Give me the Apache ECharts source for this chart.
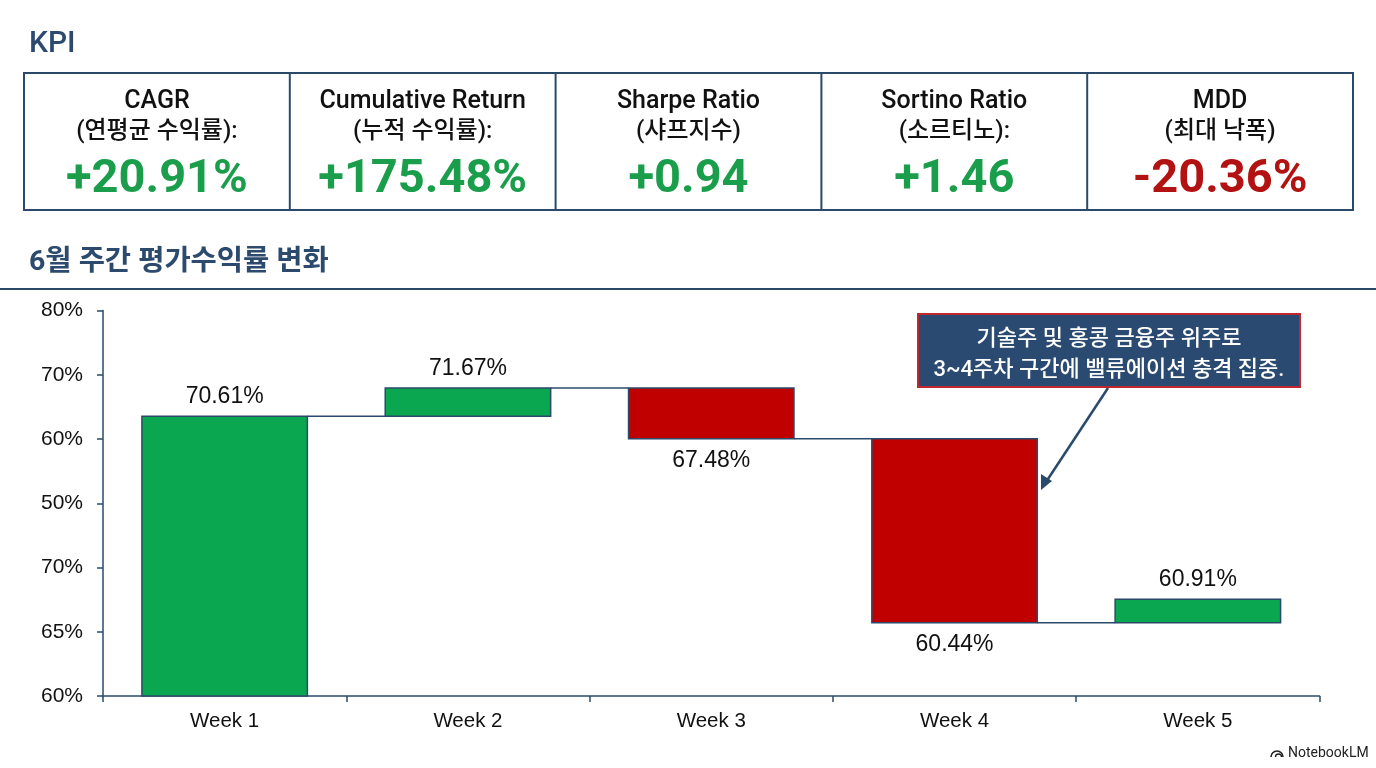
<!DOCTYPE html>
<html>
<head>
<meta charset="utf-8">
<script src="https://cdn.jsdelivr.net/npm/echarts@6/dist/echarts.min.js"></script>
<style>
html,body{margin:0;padding:0;background:#fff;}
#c{width:1376px;height:768px;}
</style>
</head>
<body>
<div id="c"></div>
<script>
// ---- data ----
const kpiNames = ['CAGR', 'Cumulative Return', 'Sharpe Ratio', 'Sortino Ratio', 'MDD'];
const kpiSubs = ['(연평균 수익률):', '(누적 수익률):', '(샤프지수)', '(소르티노):', '(최대 낙폭)'];
const kpiValues = ['+20.91%', '+175.48%', '+0.94', '+1.46', '-20.36%'];
const kpiPositive = [true, true, true, true, false];

const categories = ['Week 1', 'Week 2', 'Week 3', 'Week 4', 'Week 5'];
// bar levels in axis-tick units (position along the printed axis)
const barLevels = [0, 4.355, 4.795, 4.005, 1.14, 1.504];
const valueLabels = ['70.61%', '71.67%', '67.48%', '60.44%', '60.91%'];
const yTickLabels = ['60%', '65%', '70%', '50%', '60%', '70%', '80%'];

const noteLines = ['기술주 및 홍콩 금융주 위주로', '3~4주차 구간에 밸류에이션 충격 집중.'];

// ---- styles ----
const NAVY = '#2b4a6b';
const GREEN = '#0aa650';
const RED = '#c00000';
const KFONT = "Roboto, 'Noto Sans CJK KR', sans-serif";
const CFONT = "'Liberation Sans', Arial, 'Noto Sans CJK KR', sans-serif";

const chart = echarts.init(document.getElementById('c'), null, {renderer: 'canvas'});

const graphics = [];
graphics.push({type: 'text', x: 29, y: 44, style: {text: 'KPI', fill: '#2c4a6e', font: "500 30px " + KFONT, textVerticalAlign: 'middle'}});
// KPI box
const boxX = 24, boxY = 73, boxW = 1329, boxH = 137, cellW = boxW / 5;
graphics.push({type: 'rect', shape: {x: boxX, y: boxY, width: boxW, height: boxH}, style: {fill: '#fff', stroke: NAVY, lineWidth: 2}});
for (let i = 1; i < 5; i++) {
  graphics.push({type: 'line', shape: {x1: boxX + cellW * i, y1: boxY, x2: boxX + cellW * i, y2: boxY + boxH}, style: {stroke: NAVY, lineWidth: 2}});
}
kpiNames.forEach((n, i) => {
  const cx = boxX + cellW * (i + 0.5);
  graphics.push({type: 'text', x: cx, y: 102, style: {text: n, fill: '#111', font: "500 25px " + KFONT, textAlign: 'center', textVerticalAlign: 'middle'}});
  graphics.push({type: 'text', x: cx, y: 132, style: {text: kpiSubs[i], fill: '#111', font: "500 24px " + KFONT, textAlign: 'center', textVerticalAlign: 'middle'}});
  graphics.push({type: 'text', x: cx, y: 180, style: {text: kpiValues[i], fill: kpiPositive[i] ? '#1b9e4b' : '#b31212', font: "bold 47px " + KFONT, textAlign: 'center', textVerticalAlign: 'middle'}});
});
// section title
graphics.push({type: 'text', x: 29, y: 263, style: {text: '6월 주간 평가수익률 변화', fill: '#2c4a6e', font: "bold 28.5px " + KFONT, textVerticalAlign: 'middle'}});
graphics.push({type: 'line', shape: {x1: 0, y1: 289, x2: 1376, y2: 289}, style: {stroke: NAVY, lineWidth: 2}});
// annotation
graphics.push({type: 'rect', z: 10, shape: {x: 918, y: 314, width: 382, height: 73}, style: {fill: '#2b4a72', stroke: '#c0282d', lineWidth: 2}});
graphics.push({type: 'text', z: 11, x: 1109, y: 339, style: {text: noteLines[0], fill: '#fff', font: "500 22px " + KFONT, textAlign: 'center', textVerticalAlign: 'middle'}});
graphics.push({type: 'text', z: 11, x: 1109, y: 370, style: {text: noteLines[1], fill: '#fff', font: "500 22px " + KFONT, textAlign: 'center', textVerticalAlign: 'middle'}});
// arrow
graphics.push({type: 'line', z: 10, shape: {x1: 1108, y1: 388, x2: 1046, y2: 482}, style: {stroke: NAVY, lineWidth: 2.5}});
graphics.push({type: 'polygon', z: 10, shape: {points: [[1041, 490], [1041, 474], [1052, 481]]}, style: {fill: NAVY}});
// watermark
graphics.push({type: 'text', x: 1288, y: 753, style: {text: 'NotebookLM', fill: '#222', font: "14px " + KFONT, textVerticalAlign: 'middle'}});
graphics.push({type: 'arc', shape: {cx: 1277, cy: 757, r: 6, startAngle: Math.PI, endAngle: 2 * Math.PI}, style: {fill: 'none', stroke: '#222', lineWidth: 1.6}});
graphics.push({type: 'arc', shape: {cx: 1278.5, cy: 757, r: 3, startAngle: Math.PI, endAngle: 2 * Math.PI}, style: {fill: 'none', stroke: '#222', lineWidth: 1.4}});

const seriesData = categories.map((c, i) => [i, barLevels[i], barLevels[i + 1]]);

const option = {
  backgroundColor: '#fff',
  animation: false,
  graphic: graphics,
  grid: {left: 103, right: 56.5, top: 310.5, bottom: 72},
  xAxis: {
    type: 'category',
    data: categories,
    boundaryGap: true,
    axisLine: {lineStyle: {color: NAVY, width: 1.5}},
    axisTick: {show: true, length: 6, alignWithLabel: false, lineStyle: {color: NAVY, width: 1.5}},
    axisLabel: {color: '#111', fontSize: 20.5, fontFamily: CFONT, margin: 15}
  },
  yAxis: {
    type: 'value',
    min: 0, max: 6, interval: 1,
    axisLine: {show: true, lineStyle: {color: NAVY, width: 1.5}},
    axisTick: {show: true, length: 6, lineStyle: {color: NAVY, width: 1.5}},
    splitLine: {show: false},
    axisLabel: {color: '#111', fontSize: 21, fontFamily: CFONT, margin: 20,
      formatter: v => yTickLabels[Math.round(v)]}
  },
  series: [{
    type: 'custom',
    data: seriesData,
    encode: {x: 0, y: [1, 2]},
    renderItem: function (params, api) {
      const i = api.value(0), s = api.value(1), e = api.value(2);
      const p0 = api.coord([i, s]), p1 = api.coord([i, e]);
      const w = api.size([1, 0])[0] * 0.68;
      const up = e >= s;
      const top = Math.min(p0[1], p1[1]);
      const h = Math.abs(p1[1] - p0[1]);
      const children = [{
        type: 'rect',
        shape: {x: p0[0] - w / 2, y: top, width: w, height: h},
        style: {fill: up ? GREEN : RED, stroke: NAVY, lineWidth: 1.5}
      }];
      if (i < categories.length - 1) {
        const pn = api.coord([i + 1, e]);
        children.push({type: 'line', shape: {x1: p1[0] + w / 2, y1: p1[1], x2: pn[0] - w / 2, y2: p1[1]}, style: {stroke: NAVY, lineWidth: 1.5}});
      }
      children.push({
        type: 'text',
        x: p0[0],
        y: up ? top - 8 : top + h + 10,
        style: {text: valueLabels[i], fill: '#111', font: "23px " + CFONT, textAlign: 'center', textVerticalAlign: up ? 'bottom' : 'top'}
      });
      return {type: 'group', children: children};
    }
  }]
};
chart.setOption(option);
</script>
</body>
</html>
